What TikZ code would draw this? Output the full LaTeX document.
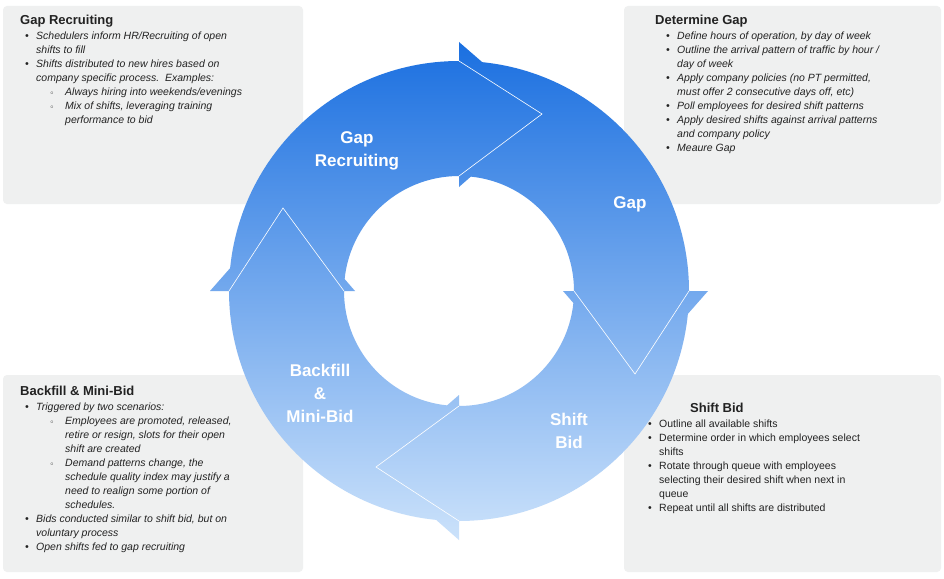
\documentclass[tikz,border=0pt]{standalone}
\usepackage{fontspec}
\setmainfont{Liberation Sans}
\definecolor{boxgray}{HTML}{EFF0F0}
\definecolor{ctop}{HTML}{1A6FE0}
\definecolor{cmid}{HTML}{64A8F5}
\definecolor{cbot}{HTML}{CDE3FB}
\definecolor{txt}{HTML}{222222}
\newcommand{\bl}[1]{\makebox[16pt][l]{\hspace{5pt}\textbullet}#1}
\newcommand{\cl}[1]{\hspace{16pt}#1}
\newcommand{\sbl}[1]{\hspace{30pt}\makebox[15pt][l]{\raisebox{1pt}{\tiny$\circ$}}#1}
\newcommand{\scl}[1]{\hspace{45pt}#1}
\begin{document}
\begin{tikzpicture}[x=1pt,y=1pt,
  box/.style={fill=boxgray,rounded corners=4pt},
  seg/.style={path picture={\shade[top color=ctop,middle color=cmid,bottom color=cbot] (200,-40) rectangle (720,-545);}},
  edge/.style={draw=white,line width=0.6pt,line join=miter},
  lab/.style={text=white,font=\fontsize{17}{23}\selectfont\bfseries,align=center},
  desc/.style={anchor=north west,inner sep=0pt,align=left,text=txt,font=\fontsize{10.5}{14}\selectfont}]
\useasboundingbox (0,0) rectangle (944,-578);
\fill[white] (0,0) rectangle (944,-578);
\path[box] (3,-6) rectangle (303,-204);
\path[box] (624,-6) rectangle (941,-204);
\path[box] (3,-375) rectangle (303,-572);
\path[box] (624,-375) rectangle (941,-572);
% ring segments
\path[seg] (459,-521) arc[start angle=-90,end angle=-180,radius=230] -- (210,-291) -- (283,-208) -- (355,-291) -- (344,-291) arc[start angle=180,end angle=270,radius=115] -- cycle;
\path[seg] (689,-291) arc[start angle=0,end angle=-90,radius=230] -- (459,-540) -- (376,-467) -- (459,-395) -- (459,-406) arc[start angle=-90,end angle=0,radius=115] -- cycle;
\path[seg] (459,-61) arc[start angle=90,end angle=0,radius=230] -- (708,-291) -- (635,-374) -- (563,-291) -- (574,-291) arc[start angle=0,end angle=90,radius=115] -- cycle;
\path[seg] (229,-291) arc[start angle=180,end angle=90,radius=230] -- (459,-42) -- (542,-114) -- (459,-187) -- (459,-176) arc[start angle=90,end angle=180,radius=115] -- cycle;
\coordinate (t1) at (542,-114); \coordinate (t2) at (635,-374);
\coordinate (t3) at (376,-467); \coordinate (t4) at (283,-208);
\draw[edge] (459,-61) -- (t1) -- (459,-176);
\draw[edge] (689,-291) -- (t2) -- (574,-291);
\draw[edge] (459,-521) -- (t3) -- (459,-406);
\draw[edge] (229,-291) -- (t4) -- (344,-291);
\node[lab] (lgr) at (357,-151) {Gap\\Recruiting};
\node[lab] (lgap) at (630,-204) {Gap};
\node[lab] (lsb) at (569,-431) {Shift\\Bid};
\node[lab] (lbf) at (320,-393) {Backfill\\\&\\Mini-Bid};
% descriptions
\node[desc] (d1) at (20,-15) {{\fontsize{13}{14}\selectfont\bfseries Gap Recruiting}\\[1pt]
\itshape\bl{Schedulers inform HR/Recruiting of open}\\
\itshape\cl{shifts to fill}\\
\itshape\bl{Shifts distributed to new hires based on}\\
\itshape\cl{company specific process.\ \ Examples:}\\
\itshape\sbl{Always hiring into weekends/evenings}\\
\itshape\sbl{Mix of shifts, leveraging training}\\
\itshape\scl{performance to bid}};
\node[desc] (d2) at (655,-15) {{\fontsize{13}{14}\selectfont\bfseries Determine Gap}\\[1pt]
\itshape\makebox[6pt]{}\bl{Define hours of operation, by day of week}\\
\itshape\makebox[6pt]{}\bl{Outline the arrival pattern of traffic by hour /}\\
\itshape\makebox[6pt]{}\cl{day of week}\\
\itshape\makebox[6pt]{}\bl{Apply company policies (no PT permitted,}\\
\itshape\makebox[6pt]{}\cl{must offer 2 consecutive days off, etc)}\\
\itshape\makebox[6pt]{}\bl{Poll employees for desired shift patterns}\\
\itshape\makebox[6pt]{}\bl{Apply desired shifts against arrival patterns}\\
\itshape\makebox[6pt]{}\cl{and company policy}\\
\itshape\makebox[6pt]{}\bl{Meaure Gap}};
\node[desc] (d3) at (20,-386) {{\fontsize{13}{14}\selectfont\bfseries Backfill \& Mini-Bid}\\[1pt]
\itshape\bl{Triggered by two scenarios:}\\
\itshape\sbl{Employees are promoted, released,}\\
\itshape\scl{retire or resign, slots for their open}\\
\itshape\scl{shift are created}\\
\itshape\sbl{Demand patterns change, the}\\
\itshape\scl{schedule quality index may justify a}\\
\itshape\scl{need to realign some portion of}\\
\itshape\scl{schedules.}\\
\itshape\bl{Bids conducted similar to shift bid, but on}\\
\itshape\cl{voluntary process}\\
\itshape\bl{Open shifts fed to gap recruiting}};
\node[desc] (d4) at (643,-403) {\hspace{47pt}{\fontsize{13}{14}\selectfont\bfseries Shift Bid}\\[1pt]
\bl{Outline all available shifts}\\
\bl{Determine order in which employees select}\\
\cl{shifts}\\
\bl{Rotate through queue with employees}\\
\cl{selecting their desired shift when next in}\\
\cl{queue}\\
\bl{Repeat until all shifts are distributed}};
\end{tikzpicture}
\end{document}
